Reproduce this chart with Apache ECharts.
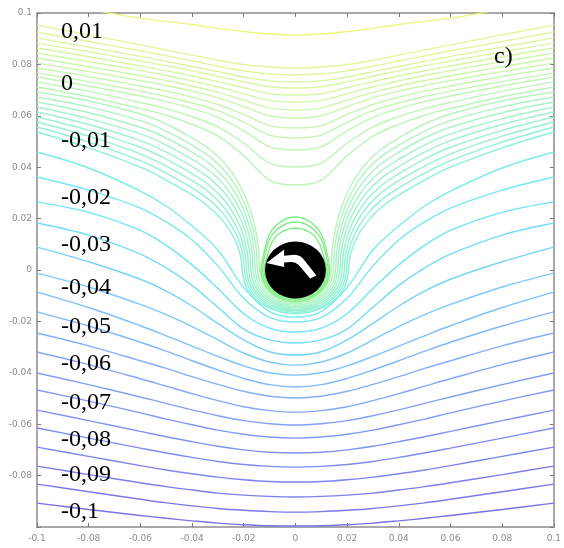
<!DOCTYPE html>
<html><head><meta charset="utf-8">
<script src="https://cdn.jsdelivr.net/npm/echarts@6/dist/echarts.min.js"></script>
<style>html,body{margin:0;padding:0;background:#fff}#c{width:564px;height:548px}</style>
</head><body><div id="c"></div>
<script>
// Only the right half (x >= 0) is stored: the figure is mirror-symmetric about x = 0.
const UNIT = 0.001;
const xGrid = [0, 10, 20, 30, 40, 50, 60, 80, 100];

const topLine = [[0,91.4],[20,92.8],[40,95.5],[60,98],[72,100],[80,101.5]];
const topLevel = 0.016;

// streamlines passing over the saddle point (y at xGrid)
const upperY = [
  [78.6, 79.0, 79.9, 81.6, 83.6, 85.6, 87.6, 91.5, 95.3],
  [75.9, 76.3, 77.5, 79.3, 81.4, 83.3, 85.3, 88.9, 92.6],
  [73.2, 73.6, 75.1, 77.2, 79.2, 81.2, 83.1, 86.7, 90.3],
  [70.8, 71.3, 73.2, 75.4, 77.5, 79.5, 81.3, 84.9, 88.3],
  [68.1, 68.6, 70.9, 73.3, 75.5, 77.5, 79.4, 83.0, 86.4],
  [65.4, 66.0, 68.6, 71.3, 73.6, 75.7, 77.6, 81.1, 84.4],
  [62.3, 63.0, 66.1, 69.1, 71.6, 73.7, 75.6, 79.1, 82.5],
  [59.1, 60.0, 63.6, 67.0, 69.6, 71.8, 73.7, 77.2, 80.5],
  [55.3, 56.2, 60.5, 64.4, 67.2, 69.6, 71.6, 75.3, 78.6],
  [51.4, 52.5, 57.5, 62.0, 65.0, 67.5, 69.6, 73.3, 76.7],
  [46.7, 48.0, 54.2, 59.4, 62.8, 65.5, 67.7, 71.6, 75.1],
  [40.1, 41.6, 49.4, 55.7, 59.7, 62.8, 65.2, 69.5, 73.2],
  [33.1, 35.0, 44.5, 52.1, 56.7, 60.2, 62.8, 67.4, 71.2]
];
const upperLevels = [0.010, 0.0092, 0.0083, 0.0075, 0.0067, 0.0058, 0.005, 0.0042, 0.0033, 0.0025, 0.0017, 0.0008, 0.0];

// streamlines diving beside the cylinder and passing just under it ([x, y] points)
const vLines = [
  [[0,-12.65],[5.30,-11.69],[9.79,-8.94],[12.80,-4.84],[13.85,0],[14.23,7.78],[15.38,15.56],[17.69,24.13],[21.15,32.30],[26.15,40.08],[32.31,46.30],[40,51.36],[50,56.81],[60,60.70],[80,65.76],[100,69.26]],
  [[0,-13.19],[5.63,-12.19],[10.39,-9.33],[13.57,-5.05],[14.69,0],[15.06,7.24],[16.16,14.49],[18.35,22.49],[21.66,30.14],[26.48,37.57],[32.52,43.64],[40,48.59],[50,54.08],[60,58.11],[80,63.48],[100,67.32]],
  [[0,-13.74],[5.95,-12.70],[10.99,-9.71],[14.36,-5.26],[15.54,0],[15.90,6.71],[16.94,13.42],[19.02,20.85],[22.16,27.98],[26.81,35.06],[32.73,40.98],[40,45.82],[50,51.36],[60,55.53],[80,61.20],[100,65.37]],
  [[0,-14.28],[6.27,-13.19],[11.58,-10.10],[15.13,-5.47],[16.38,0],[16.73,6.18],[17.71,12.35],[19.68,19.21],[22.67,25.81],[27.14,32.55],[32.94,38.31],[40,43.05],[50,48.63],[60,52.94],[80,58.91],[100,63.43]],
  [[0,-14.82],[6.60,-13.69],[12.18,-10.48],[15.92,-5.68],[17.23,0],[17.57,5.64],[18.49,11.28],[20.35,17.57],[23.18,23.65],[27.48,30.04],[33.16,35.65],[40,40.28],[50,45.91],[60,50.35],[80,56.63],[100,61.48]],
  [[0,-15.37],[6.92,-14.20],[12.78,-10.87],[16.71,-5.89],[18.08,0],[18.40,5.11],[19.27,10.21],[21.01,15.92],[23.68,21.49],[27.81,27.53],[33.37,32.99],[40,37.51],[50,43.18],[60,47.76],[80,54.35],[100,59.54]],
  [[0,-15.91],[7.25,-14.70],[13.38,-11.25],[17.48,-6.09],[18.92,0],[19.23,4.57],[20.05,9.14],[21.67,14.28],[24.19,19.33],[28.14,25.02],[33.58,30.33],[40,34.74],[50,40.45],[60,45.18],[80,52.07],[100,57.59]],
  [[0,-16.46],[7.57,-15.21],[13.98,-11.64],[18.27,-6.30],[19.77,0],[20.07,4.04],[20.82,8.07],[22.34,12.64],[24.69,17.16],[28.47,22.51],[33.79,27.66],[40,31.97],[50,37.73],[60,42.59],[80,49.78],[100,55.64]],
  [[0,-17.00],[7.90,-15.71],[14.58,-12.02],[19.05,-6.51],[20.62,0],[20.9,3.5],[21.6,7],[23,11],[25.2,15],[28.8,20],[34,25],[40,29.2],[50,35],[60,40],[80,47.5],[100,53.7]]
];
const vLevels = [-0.001, -0.002, -0.003, -0.004, -0.005, -0.006, -0.007, -0.008, -0.009];

// closed streamlines around the cylinder (right half, from top to bottom)
const loops = [
  [[0,16.34],[3.85,15.56],[6.92,13.62],[9.23,10.51],[10.77,5.84],[12.12,0],[11.20,-4.25],[8.57,-7.84],[4.64,-10.25],[0,-11.09]],
  [[0,18.68],[3.85,17.90],[7.31,15.56],[10.0,12.06],[11.54,7.00],[12.69,0],[11.73,-4.47],[8.97,-8.25],[4.86,-10.78],[0,-11.67]],
  [[0,20.62],[3.85,19.84],[7.69,17.12],[10.38,13.23],[11.92,7.78],[13.27,0],[12.26,-4.70],[9.38,-8.67],[5.08,-11.33],[0,-12.26]]
];

// streamlines passing under the cylinder (y at xGrid)
const lowerY = [
  [-18.3, -16.2, -6.8, 7.8, 17.1, 24.9, 30.7, 39.7, 45.9],
  [-20.2, -18.4, -11.0, 1.6, 11.7, 18.7, 24.1, 31.1, 36.2],
  [-24.1, -22.6, -17.0, -7.2, 2.0, 9.6, 15.4, 22.4, 26.5],
  [-28.4, -27.2, -23.0, -14.5, -6.0, 0.8, 6.2, 13.6, 18.3],
  [-33.1, -31.8, -27.2, -20.8, -14.0, -8.2, -3.6, 3.2, 8.9],
  [-37.0, -35.8, -32.3, -27.2, -22.0, -17.4, -13.4, -6.6, -1.2],
  [-40.9, -40.0, -37.3, -33.6, -29.6, -25.6, -21.7, -14.6, -8.6],
  [-45.5, -44.6, -42.2, -38.9, -35.3, -31.6, -28.1, -21.8, -16.3],
  [-49.8, -49.1, -47.2, -44.5, -41.5, -38.3, -35.3, -29.5, -24.5],
  [-55.3, -54.7, -53.2, -50.8, -48.1, -45.2, -42.3, -36.8, -31.9],
  [-60.3, -59.8, -58.6, -56.7, -54.4, -51.9, -49.4, -44.6, -40.1],
  [-65.4, -65.0, -63.9, -62.3, -60.2, -58.0, -55.6, -51.0, -46.7],
  [-71.2, -70.9, -70.0, -68.6, -66.8, -64.9, -62.8, -58.6, -54.5],
  [-76.7, -76.4, -75.7, -74.5, -72.9, -71.2, -69.3, -65.4, -61.5],
  [-82.5, -82.3, -81.6, -80.6, -79.3, -77.8, -76.1, -72.5, -68.9],
  [-88.3, -88.1, -87.6, -86.8, -85.6, -84.3, -82.8, -79.6, -76.3],
  [-94.2, -94.0, -93.5, -92.8, -91.8, -90.6, -89.2, -86.3, -83.3],
  [-99.6, -99.5, -99.1, -98.5, -97.6, -96.6, -95.5, -93.2, -90.7]
];
const lowerLevels = [-0.015, -0.02, -0.025, -0.03, -0.035, -0.04, -0.045, -0.05, -0.055, -0.06,
                     -0.065, -0.07, -0.075, -0.08, -0.085, -0.09, -0.095, -0.1];

const levelLabels = ['0,01', '0', '-0,01', '-0,02', '-0,03', '-0,04', '-0,05', '-0,06', '-0,07', '-0,08', '-0,09', '-0,1'];
const panelLabel = 'c)';

// ---------- styling ----------
const colorStops = [
  [-0.100, [120,116,232]], [-0.080, [128,138,240]], [-0.060, [134,166,248]],
  [-0.040, [124,202,250]], [-0.025, [112,228,248]], [-0.012, [124,238,230]],
  [-0.005, [160,242,204]], [0.000, [188,244,186]], [0.006, [212,246,168]],
  [0.012, [230,246,146]], [0.016, [240,244,124]]
];
function levelColor(v) {
  if (v <= colorStops[0][0]) return 'rgb(' + colorStops[0][1].join(',') + ')';
  for (let i = 1; i < colorStops.length; i++) {
    const [v1, c1] = colorStops[i];
    const [v0, c0] = colorStops[i - 1];
    if (v <= v1) {
      const t = (v - v0) / (v1 - v0);
      return 'rgb(' + c0.map((c, k) => Math.round(c + (c1[k] - c) * t)).join(',') + ')';
    }
  }
  return 'rgb(' + colorStops[colorStops.length - 1][1].join(',') + ')';
}
const loopColor = 'rgb(128,236,132)';
const labelY = [32, 84, 141, 198, 245, 288, 327, 364, 403, 440, 475, 512];

// ---------- build symmetric polylines ----------
function fromGrid(ys) {
  const pts = [];
  for (let i = xGrid.length - 1; i > 0; i--) pts.push([-xGrid[i] * UNIT, ys[i] * UNIT]);
  for (let i = 0; i < xGrid.length; i++) pts.push([xGrid[i] * UNIT, ys[i] * UNIT]);
  return pts;
}
function fromHalf(p) {
  const pts = [];
  for (let i = p.length - 1; i > 0; i--) pts.push([-p[i][0] * UNIT, p[i][1] * UNIT]);
  for (let i = 0; i < p.length; i++) pts.push([p[i][0] * UNIT, p[i][1] * UNIT]);
  return pts;
}
function closedLoop(p) {
  const pts = p.map(q => [q[0] * UNIT, q[1] * UNIT]);
  for (let i = p.length - 2; i >= 0; i--) pts.push([-p[i][0] * UNIT, p[i][1] * UNIT]);
  return pts;
}
function lineSeries(data, color) {
  return {
    type: 'line', data, showSymbol: false, symbol: 'none', silent: true,
    smooth: 0.35, lineStyle: { color, width: 1.4 }, z: 2, animation: false
  };
}

const series = [];
lowerY.forEach((ys, i) => series.push(lineSeries(fromGrid(ys), levelColor(lowerLevels[i]))));
vLines.forEach((p, i) => series.push(lineSeries(fromHalf(p), levelColor(vLevels[i]))));
loops.forEach(p => series.push(lineSeries(closedLoop(p), loopColor)));
upperY.forEach((ys, i) => series.push(lineSeries(fromGrid(ys), levelColor(upperLevels[i]))));
series.push(lineSeries(fromHalf(topLine), levelColor(topLevel)));

// cylinder and rotation arrow
series.push({
  type: 'scatter', data: [[0, 0]], symbol: 'circle', symbolSize: [61, 57],
  itemStyle: { color: '#000', opacity: 1 }, z: 10, silent: true, animation: false
});
series.push({
  type: 'scatter', data: [[0, 0]],
  symbol: 'path://M0 13 L17 0 L17 6 L27 5 Q33 5 37 11 L48 25 L42 28 L31 15 Q28 12 24 12 L17 12.5 L17 17 Z',
  symbolSize: [50, 29], symbolOffset: [-4, -6],
  itemStyle: { color: '#fff', opacity: 1 }, z: 11, silent: true, animation: false
});

const fmt = v => String(Math.round(v * 100) / 100);
const axisBase = {
  type: 'value', min: -0.1, max: 0.1, interval: 0.02,
  axisLine: { show: true, onZero: false, lineStyle: { color: '#a8a8a8', width: 2 } },
  axisTick: { show: true, inside: true, length: 4, lineStyle: { color: '#7a7a7a', width: 1 } },
  splitLine: { show: false }
};
const tickFont = { color: '#8a8a8a', fontSize: 9, fontFamily: 'DejaVu Sans' };

const graphics = levelLabels.map((t, i) => ({
  type: 'text', x: 61, y: labelY[i], z: 100, silent: true,
  style: { text: t, fontSize: 24, fontFamily: 'Liberation Serif', fill: '#000', align: 'left', verticalAlign: 'middle' }
}));
graphics.push({
  type: 'text', x: 494, y: 57, z: 100, silent: true,
  style: { text: panelLabel, fontSize: 24, fontFamily: 'Liberation Serif', fill: '#000', align: 'left', verticalAlign: 'middle' }
});

const chart = echarts.init(document.getElementById('c'), null, { renderer: 'canvas' });
chart.setOption({
  animation: false,
  backgroundColor: '#fff',
  grid: { left: 37, right: 7, top: 13, bottom: 21, containLabel: false },
  xAxis: [
    Object.assign({}, axisBase, { position: 'bottom',
      axisLabel: Object.assign({ margin: 7, formatter: fmt, showMinLabel: true, showMaxLabel: true }, tickFont) }),
    Object.assign({}, axisBase, { position: 'top', axisLabel: { show: false } })
  ],
  yAxis: [
    Object.assign({}, axisBase, { position: 'left',
      axisLabel: Object.assign({ margin: 5, showMinLabel: true, showMaxLabel: true,
        formatter: v => (v < -0.099 ? '' : fmt(v)) }, tickFont) }),
    Object.assign({}, axisBase, { position: 'right', axisLabel: { show: false } })
  ],
  series: series,
  graphic: graphics
});
</script>
</body></html>
